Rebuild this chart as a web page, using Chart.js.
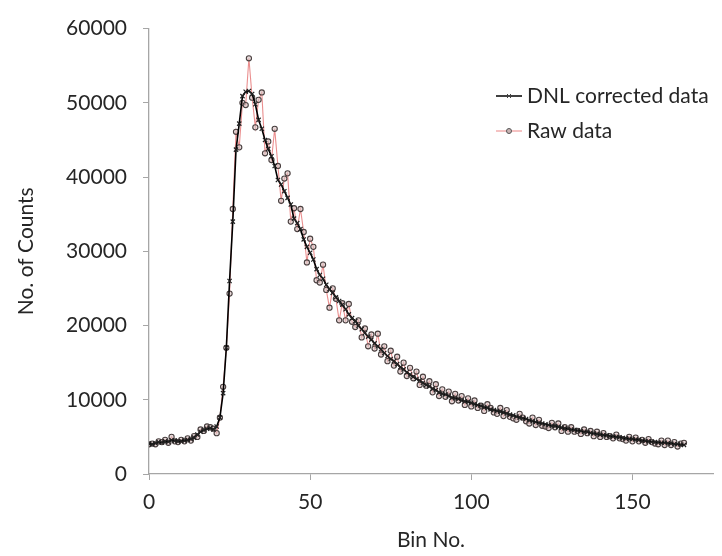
<!DOCTYPE html>
<html>
<head>
<meta charset="utf-8">
<script src="https://cdn.jsdelivr.net/npm/chart.js@4.4.1/dist/chart.umd.min.js"></script>
<style>
    html, body { margin: 0; padding: 0; background: #fff; }
    #wrap { width: 722px; height: 556px; }
</style>
</head>
<body>
<div id="wrap"><canvas id="binChart" width="722" height="556"></canvas></div>
<script>
// Counts per bin, DNL corrected
const dnlCounts = [
    4100, 4000, 4150, 4300, 4250, 4400, 4350, 4550, 4500, 4400,
    4450, 4500, 4600, 4700, 4900, 5300, 5700, 5900, 6100, 6200,
    6000, 6400, 7600, 10900, 17000, 26000, 34000, 43700, 47200, 50900,
    51500, 51600, 51200, 49800, 47700, 46500, 45000, 43800, 42800, 41500,
    39600, 39000, 38100, 37200, 36300, 34400, 33800, 33000, 31600, 30600,
    29800, 28900, 27600, 26800, 26300, 25500, 24900, 24400, 23800, 23300,
    22800, 22200, 21500, 21000, 20600, 20000, 19500, 19000, 18500, 18100,
    17600, 17200, 16800, 16300, 15900, 15500, 15200, 14800, 14400, 14100,
    13700, 13400, 13100, 12800, 12600, 12300, 12000, 11800, 11500, 11300,
    11000, 10800, 10700, 10500, 10300, 10200, 10100, 9900, 9800, 9700,
    9600, 9400, 9300, 9200, 9000, 8900, 8700, 8600, 8500, 8400,
    8300, 8150, 8000, 7900, 7750, 7600, 7500, 7400, 7250, 7100,
    7000, 6900, 6800, 6700, 6600, 6500, 6450, 6350, 6250, 6150,
    6100, 6000, 5950, 5850, 5800, 5700, 5650, 5550, 5450, 5400,
    5300, 5250, 5200, 5100, 5050, 5000, 4950, 4850, 4800, 4750,
    4700, 4650, 4600, 4500, 4450, 4400, 4350, 4300, 4250, 4200,
    4200, 4150, 4100, 4050, 4000, 3950, 3900
];

// Raw counts per bin
const rawCounts = [
    4000, 4100, 4000, 4400, 4300, 4600, 4200, 5000, 4400, 4300,
    4600, 4400, 4800, 4500, 5100, 5000, 6000, 5800, 6400, 6300,
    6100, 5500, 7600, 11750, 17000, 24300, 35700, 46100, 44000, 50000,
    49700, 56000, 50700, 46700, 50400, 51400, 43200, 44800, 42300, 46500,
    41500, 36800, 39800, 40500, 34000, 35800, 33000, 35700, 32600, 28500,
    31700, 30600, 26100, 25800, 28200, 24800, 22400, 25000, 23600, 20700,
    23000, 20700, 22900, 20500, 19800, 20700, 18400, 19600, 17200, 18800,
    16900, 18900, 16100, 17200, 15200, 16600, 14600, 15800, 13800, 15000,
    13200, 14300, 12900, 13800, 12000, 13100, 11900, 12500, 11000, 12100,
    10500, 11400, 10400, 11100, 9800, 10800, 9900, 10500, 9300, 10200,
    9100, 9900, 8900, 9200, 8500, 9400, 8900, 8300, 8100, 8900,
    7800, 8600, 7700, 7500, 7300, 8100, 7600, 7100, 6800, 7600,
    6600, 7300, 6500, 6400, 6200, 6900, 6300, 6800, 5800, 6300,
    5700, 6300, 5700, 5800, 5400, 6000, 5500, 5800, 5100, 5700,
    5000, 5500, 5000, 5100, 4800, 5300, 4800, 4700, 4500, 5000,
    4400, 4900, 4400, 4600, 4200, 4700, 4300, 4100, 4000, 4500,
    3900, 4500, 3900, 4300, 3700, 4100, 4200
];

const xTicks = [0, 50, 100, 150];
const yTicks = [0, 10000, 20000, 30000, 40000, 50000, 60000];

const bins = dnlCounts.map((_, i) => i);
const toPoints = arr => arr.map((v, i) => ({ x: bins[i], y: v }));

const FONT = 'Lato, "Open Sans", sans-serif';
const TXT = '#262626';
const AXIS = '#a6a6a6';

// Legend drawn inside the plot, right side
const insideLegend = {
    id: 'insideLegend',
    afterDraw(chart) {
        const ctx = chart.ctx;
        const items = [
            { text: 'DNL corrected data', line: '#000', mark: 'cross', y: 96 },
            { text: 'Raw data', line: '#e99', mark: 'circle', y: 131 }
        ];
        ctx.save();
        ctx.font = '21px ' + FONT;
        ctx.textBaseline = 'middle';
        items.forEach(it => {
            ctx.strokeStyle = it.line;
            ctx.lineWidth = it.mark === 'cross' ? 1.5 : 1.2;
            ctx.beginPath();
            ctx.moveTo(496, it.y);
            ctx.lineTo(522, it.y);
            ctx.stroke();
            if (it.mark === 'cross') {
                ctx.strokeStyle = '#444';
                ctx.lineWidth = 1;
                ctx.beginPath();
                ctx.moveTo(507, it.y - 2); ctx.lineTo(511, it.y + 2);
                ctx.moveTo(511, it.y - 2); ctx.lineTo(507, it.y + 2);
                ctx.stroke();
            } else {
                ctx.fillStyle = '#c9b4b4';
                ctx.strokeStyle = '#555';
                ctx.lineWidth = 1;
                ctx.beginPath();
                ctx.arc(509, it.y, 2.5, 0, Math.PI * 2);
                ctx.fill();
                ctx.stroke();
            }
            ctx.fillStyle = TXT;
            ctx.fillText(it.text, 527, it.y);
        });
        ctx.restore();
    }
};

let binChart;

function setupChart() {
    const ctx = document.getElementById('binChart').getContext('2d');
    binChart = new Chart(ctx, {
        type: 'line',
        data: {
            datasets: [
                {
                    label: 'DNL corrected data',
                    data: toPoints(dnlCounts),
                    borderColor: '#000',
                    borderWidth: 1.6,
                    pointStyle: 'crossRot',
                    pointRadius: 3,
                    pointBorderColor: '#222',
                    pointBorderWidth: 1.2,
                    tension: 0
                },
                {
                    label: 'Raw data',
                    data: toPoints(rawCounts),
                    borderColor: 'rgba(232, 130, 130, 0.9)',
                    borderWidth: 1.1,
                    pointStyle: 'circle',
                    pointRadius: 2.6,
                    pointBackgroundColor: 'rgba(215, 195, 195, 0.6)',
                    pointBorderColor: '#4a4040',
                    pointBorderWidth: 1.1,
                    tension: 0
                }
            ]
        },
        options: {
            responsive: false,
            animation: false,
            layout: { padding: { top: 15, right: 9, left: 0, bottom: 0 } },
            plugins: {
                legend: { display: false },
                tooltip: { enabled: false }
            },
            scales: {
                x: {
                    type: 'linear',
                    min: 0,
                    max: 175,
                    afterBuildTicks: s => { s.ticks = xTicks.map(v => ({ value: v })); },
                    afterFit: s => { s.height = 82; },
                    grid: {
                        drawOnChartArea: false,
                        drawTicks: true,
                        tickLength: 6,
                        tickColor: AXIS
                    },
                    border: { color: AXIS, width: 1.3 },
                    ticks: {
                        color: TXT,
                        padding: 10,
                        font: { family: FONT, size: 21 },
                        maxRotation: 0,
                        callback: v => String(v)
                    },
                    title: {
                        display: true,
                        text: 'Bin No.',
                        color: TXT,
                        font: { family: FONT, size: 21 },
                        padding: { top: 0, bottom: 3 }
                    }
                },
                y: {
                    min: 0,
                    max: 60000,
                    afterBuildTicks: s => { s.ticks = yTicks.map(v => ({ value: v })); },
                    afterFit: s => { s.width = 149; },
                    grid: {
                        drawOnChartArea: false,
                        drawTicks: true,
                        tickLength: 6,
                        tickColor: AXIS
                    },
                    border: { color: AXIS, width: 1.3 },
                    ticks: {
                        color: TXT,
                        padding: 16,
                        font: { family: FONT, size: 21 },
                        callback: v => String(v)
                    },
                    title: {
                        display: true,
                        text: 'No. of Counts',
                        color: TXT,
                        font: { family: FONT, size: 21 },
                        padding: { top: 14, bottom: 0 }
                    }
                }
            }
        },
        plugins: [insideLegend]
    });
}

window.onload = setupChart;
</script>
</body>
</html>
